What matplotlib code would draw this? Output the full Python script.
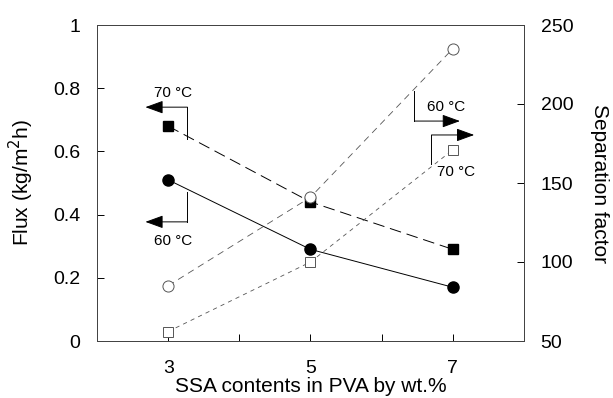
import matplotlib.pyplot as plt

plt.rcParams['font.family'] = ['Liberation Sans', 'DejaVu Sans']

ssa = [3, 5, 7]
flux_70 = [0.68, 0.44, 0.29]
flux_60 = [0.51, 0.29, 0.17]
sep_60 = [85, 141, 235]
sep_70 = [56, 100, 171]

fig = plt.figure(figsize=(6.13, 3.98), dpi=100)
ax = fig.add_axes([97 / 613, 1 - 341 / 398, 427 / 613, 316 / 398])
ax2 = ax.twinx()

ax.plot(ssa, flux_70, color='black', lw=0.7, dashes=(12, 6), marker='s', ms=7, mfc='black', mec='black')
ax.plot(ssa, flux_60, color='black', lw=0.7, ls='-', marker='o', ms=8, mfc='black', mec='black')
ax2.plot(ssa, sep_60, color='#555555', lw=0.6, dashes=(8, 6), marker='o', ms=8, mfc='white', mec='#555555', mew=0.7)
ax2.plot(ssa, sep_70, color='#555555', lw=0.6, dashes=(5, 5), marker='s', ms=7, mfc='white', mec='#555555', mew=0.7)

ax.set_xlim(2, 8)
ax.set_ylim(0, 1)
ax2.set_ylim(50, 250)
ax.set_xticks([3, 4, 5, 6, 7])
ax.set_xticklabels(['3', '', '5', '', '7'])
ax.set_yticks([0, 0.2, 0.4, 0.6, 0.8, 1])
ax.set_yticklabels(['0', '0.2', '0.4', '0.6', '0.8', '1'])
ax2.set_yticks([50, 100, 150, 200, 250])

for a in (ax, ax2):
    a.tick_params(direction='in', length=5, width=0.7, labelsize=14)
    for s in a.spines.values():
        s.set_linewidth(0.7)
        s.set_color('#444444')
ax.tick_params(axis='x', pad=14)
ax.tick_params(axis='y', pad=12)
ax2.tick_params(axis='y', pad=12)

ax.set_xlabel('SSA contents in PVA by wt.%', fontsize=15, labelpad=0)
ax.set_ylabel('Flux (kg/m$^2$h)', fontsize=15, labelpad=12)
ax2.set_ylabel('Separation factor', fontsize=15, rotation=270, labelpad=26)

# bracket arrows pointing to the axis each series belongs to
arrows = [
    # (x_start, y_start, x_corner, y_corner, x_tip, label, label_x, label_y)
    (3.27, 0.64, 3.27, 0.74, 2.68, '70 °C', 3.07, 0.785),
    (3.27, 0.47, 3.27, 0.377, 2.68, '60 °C', 3.07, 0.315),
    (6.46, 0.79, 6.46, 0.696, 7.10, '60 °C', 6.90, 0.74),
    (6.70, 0.56, 6.70, 0.652, 7.30, '70 °C', 7.05, 0.535),
]
for xs, ys, xc, yc, xt, lab, lx, ly in arrows:
    ax.plot([xs, xc], [ys, yc], color='black', lw=0.7)
    ax.annotate('', xy=(xt, yc), xytext=(xc, yc),
                arrowprops=dict(arrowstyle='-|>,head_length=1.1,head_width=0.4', color='black', lw=0.7,
                                shrinkA=0, shrinkB=0))
    ax.text(lx, ly, lab, fontsize=11, ha='center', va='center')

fig.savefig('out.png', dpi=100)
